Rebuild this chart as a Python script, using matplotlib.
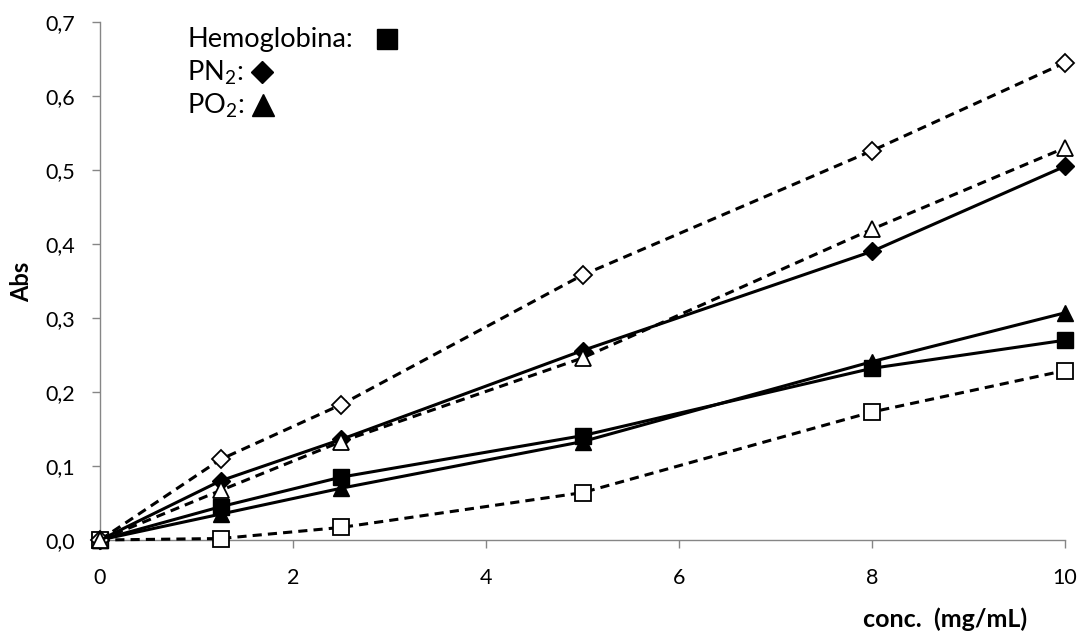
import matplotlib
matplotlib.use("Agg")
import matplotlib.pyplot as plt

conc = [0, 1.25, 2.5, 5, 8, 10]
hb_solid = [0, 0.045, 0.085, 0.141, 0.232, 0.270]
pn2_solid = [0, 0.080, 0.136, 0.256, 0.390, 0.505]
po2_solid = [0, 0.035, 0.070, 0.133, 0.241, 0.307]
hb_dash = [0, 0.002, 0.017, 0.064, 0.173, 0.229]
pn2_dash = [0, 0.109, 0.183, 0.358, 0.526, 0.645]
po2_dash = [0, 0.067, 0.133, 0.246, 0.420, 0.530]

legend_labels = ["Hemoglobina:", "PN$_2$:", "PO$_2$:"]
xticks = [0, 2, 4, 6, 8, 10]
yticks = [0, 0.1, 0.2, 0.3, 0.4, 0.5, 0.6, 0.7]

plt.rcParams['font.family'] = ['Lato', 'DejaVu Sans']
plt.rcParams['mathtext.fontset'] = 'custom'
plt.rcParams['mathtext.rm'] = 'Lato'

fig = plt.figure(figsize=(10.81, 6.37), dpi=100)
ax = fig.add_axes([100/1081, 1-540/637, 965/1081, 518/637])

lw = 2.2
ax.plot(conc, hb_solid, '-', color='black', lw=lw, marker='s', ms=11, mfc='black', mec='black', clip_on=False, zorder=3)
ax.plot(conc, pn2_solid, '-', color='black', lw=lw, marker='D', ms=9, mfc='black', mec='black', clip_on=False, zorder=3)
ax.plot(conc, po2_solid, '-', color='black', lw=lw, marker='^', ms=12, mfc='black', mec='black', clip_on=False, zorder=3)
ax.plot(conc, hb_dash, '--', color='black', lw=lw, dashes=(3, 2), marker='s', ms=11, mfc='white', mec='black', mew=1.3, clip_on=False, zorder=4)
ax.plot(conc, pn2_dash, '--', color='black', lw=lw, dashes=(3, 2), marker='D', ms=9, mfc='white', mec='black', mew=1.3, clip_on=False, zorder=4)
ax.plot(conc, po2_dash, '--', color='black', lw=lw, dashes=(3, 2), marker='^', ms=12, mfc='white', mec='black', mew=1.3, clip_on=False, zorder=4)

ax.set_xlim(0, 10)
ax.set_ylim(0, 0.7)
ax.set_xticks(xticks)
ax.set_xticklabels([str(t) for t in xticks])
ax.set_yticks(yticks)
ax.set_yticklabels([f"{t:.1f}".replace('.', ',') for t in yticks])
for s in ['top', 'right']:
    ax.spines[s].set_visible(False)
for s in ['left', 'bottom']:
    ax.spines[s].set_color('#868686')
    ax.spines[s].set_linewidth(1.0)
ax.tick_params(axis='both', direction='out', length=6, color='#868686', labelsize=15.5, width=1.0)
ax.tick_params(axis='x', pad=14)
ax.tick_params(axis='y', pad=12)

fig.text(22/1081, 1-282/637, "Abs", rotation=90, fontsize=17, fontweight='bold', ha='center', va='center')
fig.text(945/1081, 1-619/637, "conc.  (mg/mL)", fontsize=18, fontweight='bold', ha='center', va='center')

# legend-like annotations
leg_y = [40, 73, 106]
mk_x = [387, 262, 263]
mk = ['s', 'D', '^']
mks = [15, 11, 16]
for lab, y, mx, m, s in zip(legend_labels, leg_y, mk_x, mk, mks):
    fig.text(187/1081, 1-y/637, lab, fontsize=19.5, ha='left', va='center')
    fig.lines.append(plt.Line2D([mx/1081], [1-(y-1)/637], marker=m, ms=s, color='black',
                                transform=fig.transFigure, figure=fig))

fig.savefig("out.png", dpi=100)
